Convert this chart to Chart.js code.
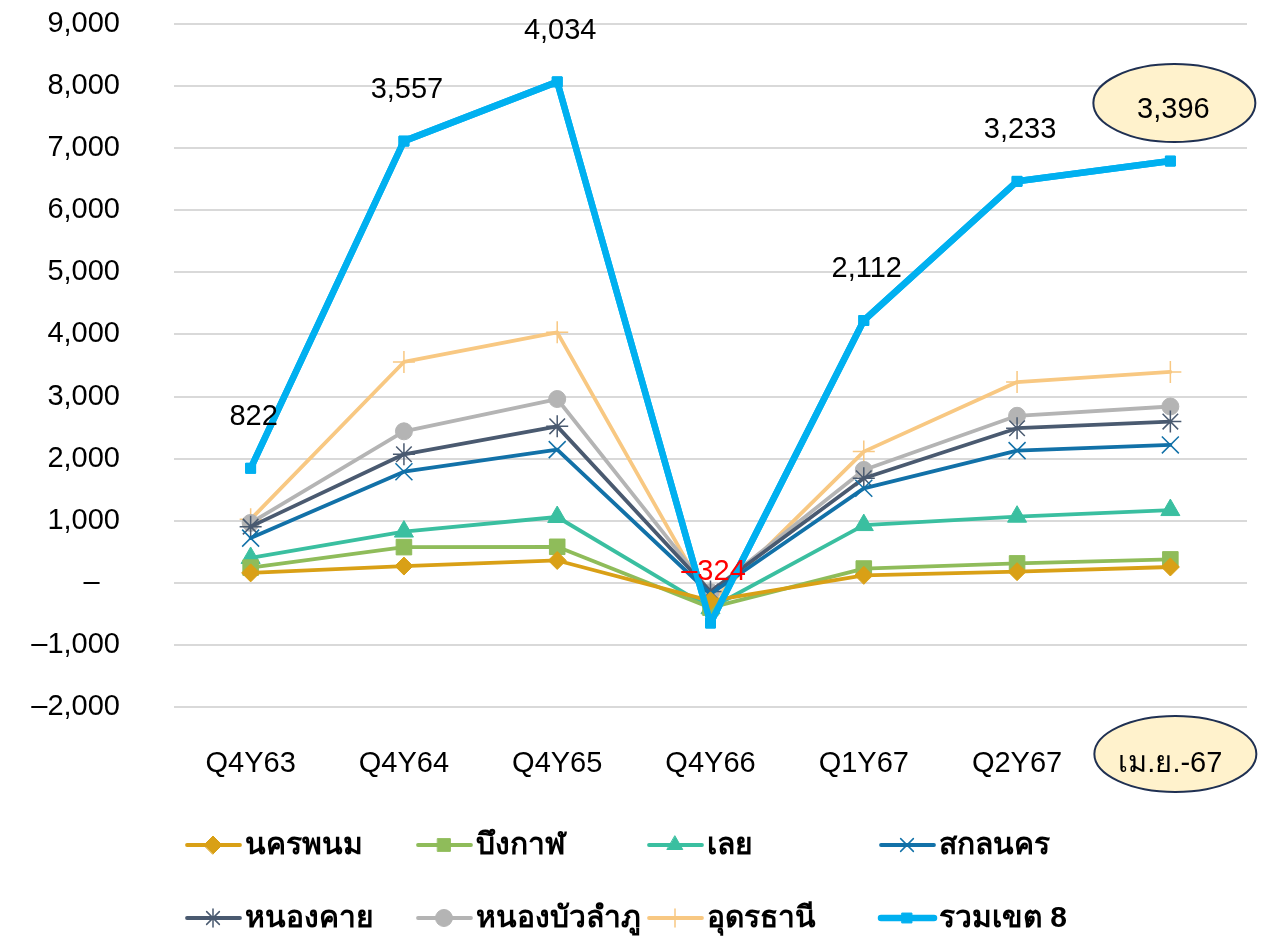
<!DOCTYPE html>
<html>
<head>
<meta charset="utf-8">
<script src="https://cdn.jsdelivr.net/npm/chart.js@4.4.1/dist/chart.umd.min.js"></script>
<style>
  html, body { margin: 0; padding: 0; background: #fff; }
  #wrap { width: 1261px; height: 939px; }
</style>
</head>
<body>
<div id="wrap"><canvas id="chart"></canvas></div>
<script>
// categories and series (each province value, stacked like the Excel chart)
const categories = ['Q4Y63', 'Q4Y64', 'Q4Y65', 'Q4Y66', 'Q1Y67', 'Q2Y67', 'เม.ย.-67'];
const nakhonPhanom = [160, 270, 360, -290, 120, 180, 255];
const buengKan = [85, 305, 220, -110, 110, 133, 122];
const loei = [155, 250, 480, -10, 700, 752, 795];
const sakonNakhon = [320, 965, 1085, 230, 592, 1064, 1049];
const nongKhai = [185, 280, 375, 40, 162, 361, 376];
const nongBuaLamphu = [60, 370, 440, -10, 134, 200, 243];
const udonThani = [58, 1117, 1074, -174, 295, 543, 556];
const region8Total = [822, 3557, 4034, -324, 2112, 3233, 3396];
const yTicks = [-2000, -1000, 0, 1000, 2000, 3000, 4000, 5000, 6000, 7000, 8000, 9000];

const FONT = '"Liberation Sans", Arial, "DejaVu Sans", sans-serif';

const series = [
  { label: 'นครพนม', data: nakhonPhanom, color: '#D9A016', style: 'rectRot', r: 9, w: 3.8 },
  { label: 'บึงกาฬ', data: buengKan, color: '#8FBC5A', style: 'rect', r: 11, w: 3.8 },
  { label: 'เลย', data: loei, color: '#3ABFA0', style: 'triangle', r: 11, w: 3.8 },
  { label: 'สกลนคร', data: sakonNakhon, color: '#1271A8', style: 'crossRot', r: 12, w: 3.8 },
  { label: 'หนองคาย', data: nongKhai, color: '#4A5A70', style: 'star', r: 11, w: 3.8 },
  { label: 'หนองบัวลำภู', data: nongBuaLamphu, color: '#B4B4B4', style: 'circle', r: 8.5, w: 3.8 },
  { label: 'อุดรธานี', data: udonThani, color: '#F8C882', style: 'cross', r: 11, w: 3.8 },
  { label: 'รวมเขต 8', data: region8Total, color: '#00B0F0', style: 'rect', r: 7, w: 6.5 }
];

function fmt(v) {
  const s = Math.abs(v).toLocaleString('en-US');
  return v < 0 ? '–' + s : s;
}

function ellipse(ctx, x, y, rx, ry) {
  ctx.save();
  ctx.beginPath();
  ctx.ellipse(x, y, rx, ry, 0, 0, Math.PI * 2);
  ctx.fillStyle = '#FFF2CC';
  ctx.fill();
  ctx.lineWidth = 2;
  ctx.strokeStyle = '#1F3052';
  ctx.stroke();
  ctx.restore();
}

function marker(ctx, s, x, y) {
  ctx.save();
  ctx.fillStyle = s.color;
  ctx.strokeStyle = s.color;
  ctx.lineWidth = (s.style === 'cross' || s.style === 'crossRot' || s.style === 'star') ? 1.5 : 1;
  Chart.helpers.drawPoint(ctx, { pointStyle: s.style, rotation: 0, radius: s.r, borderWidth: ctx.lineWidth }, x, y);
  ctx.restore();
}

const extras = {
  id: 'extras',
  beforeDraw(chart) {
    const x = chart.scales.x.getPixelForValue(6);
    ellipse(chart.ctx, x + 5, chart.chartArea.bottom + 47, 81, 38);
  },
  afterDatasetsDraw(chart) {
    const ctx = chart.ctx;
    const meta = chart.getDatasetMeta(7);
    meta.controller.draw(); // keep the total line on top
    ctx.save();
    ctx.font = '29px ' + FONT;
    ctx.textAlign = 'center';
    ctx.textBaseline = 'middle';
    meta.data.forEach((pt, i) => {
      const v = region8Total[i];
      if (i === 6) ellipse(ctx, pt.x + 4, pt.y - 58, 81, 39);
      ctx.fillStyle = v < 0 ? '#FF0000' : '#000';
      ctx.fillText(fmt(v), pt.x + 3, pt.y - 51);
    });
    ctx.restore();
  },
  afterDraw(chart) {
    const ctx = chart.ctx;
    const cols = [187, 418, 649, 881];
    const rows = [845, 918];
    ctx.save();
    ctx.font = 'bold 30px ' + FONT;
    ctx.textBaseline = 'middle';
    ctx.textAlign = 'left';
    series.forEach((s, i) => {
      const x = cols[i % 4], y = rows[Math.floor(i / 4)];
      ctx.beginPath();
      ctx.lineCap = 'round';
      ctx.lineWidth = s.w;
      ctx.strokeStyle = s.color;
      ctx.moveTo(x, y);
      ctx.lineTo(x + 53, y);
      ctx.stroke();
      marker(ctx, Object.assign({}, s, { r: Math.min(s.r, 9) }), x + 26, y);
      ctx.fillStyle = '#000';
      ctx.fillText(s.label, x + 58, y + 1);
    });
    ctx.restore();
  }
};

new Chart(document.getElementById('chart'), {
  type: 'line',
  data: {
    labels: categories,
    datasets: series.map(s => ({
      label: s.label,
      data: s.data,
      borderColor: s.color,
      backgroundColor: s.color,
      borderWidth: s.w,
      pointStyle: s.style,
      pointRadius: s.r,
      pointBorderWidth: (s.style === 'cross' || s.style === 'crossRot' || s.style === 'star') ? 1.5 : 1,
      pointBorderColor: s.color,
      pointBackgroundColor: s.color,
      borderCapStyle: 'round',
      borderJoinStyle: 'round',
      tension: 0,
      fill: false,
      clip: false
    }))
  },
  options: {
    responsive: true,
    maintainAspectRatio: false,
    animation: false,
    layout: { padding: { top: 24, right: 14, left: 0, bottom: 0 } },
    plugins: { legend: { display: false }, tooltip: { enabled: false } },
    scales: {
      x: {
        offset: true,
        grid: { display: false, drawTicks: false },
        border: { display: false },
        ticks: { font: { family: FONT, size: 29 }, color: '#000', padding: 40, maxRotation: 0, autoSkip: false },
        afterFit(scale) {
          scale.height = 232;
          scale.paddingLeft = 0;
          scale.paddingRight = 0;
        }
      },
      y: {
        stacked: 'single',
        min: -2000,
        max: 9000,
        afterBuildTicks(scale) { scale.ticks = yTicks.map(v => ({ value: v })); },
        ticks: {
          font: { family: FONT, size: 29 },
          color: '#000',
          padding: 54,
          callback: v => v === 0 ? '–\u2002\u2009' : fmt(v)
        },
        grid: { color: '#D9D9D9', lineWidth: 2, drawTicks: false },
        border: { display: false },
        afterFit(scale) {
          scale.width = 174;
          scale.paddingTop = 0;
          scale.paddingBottom = 0;
        }
      }
    }
  },
  plugins: [extras]
});
</script>
</body>
</html>
